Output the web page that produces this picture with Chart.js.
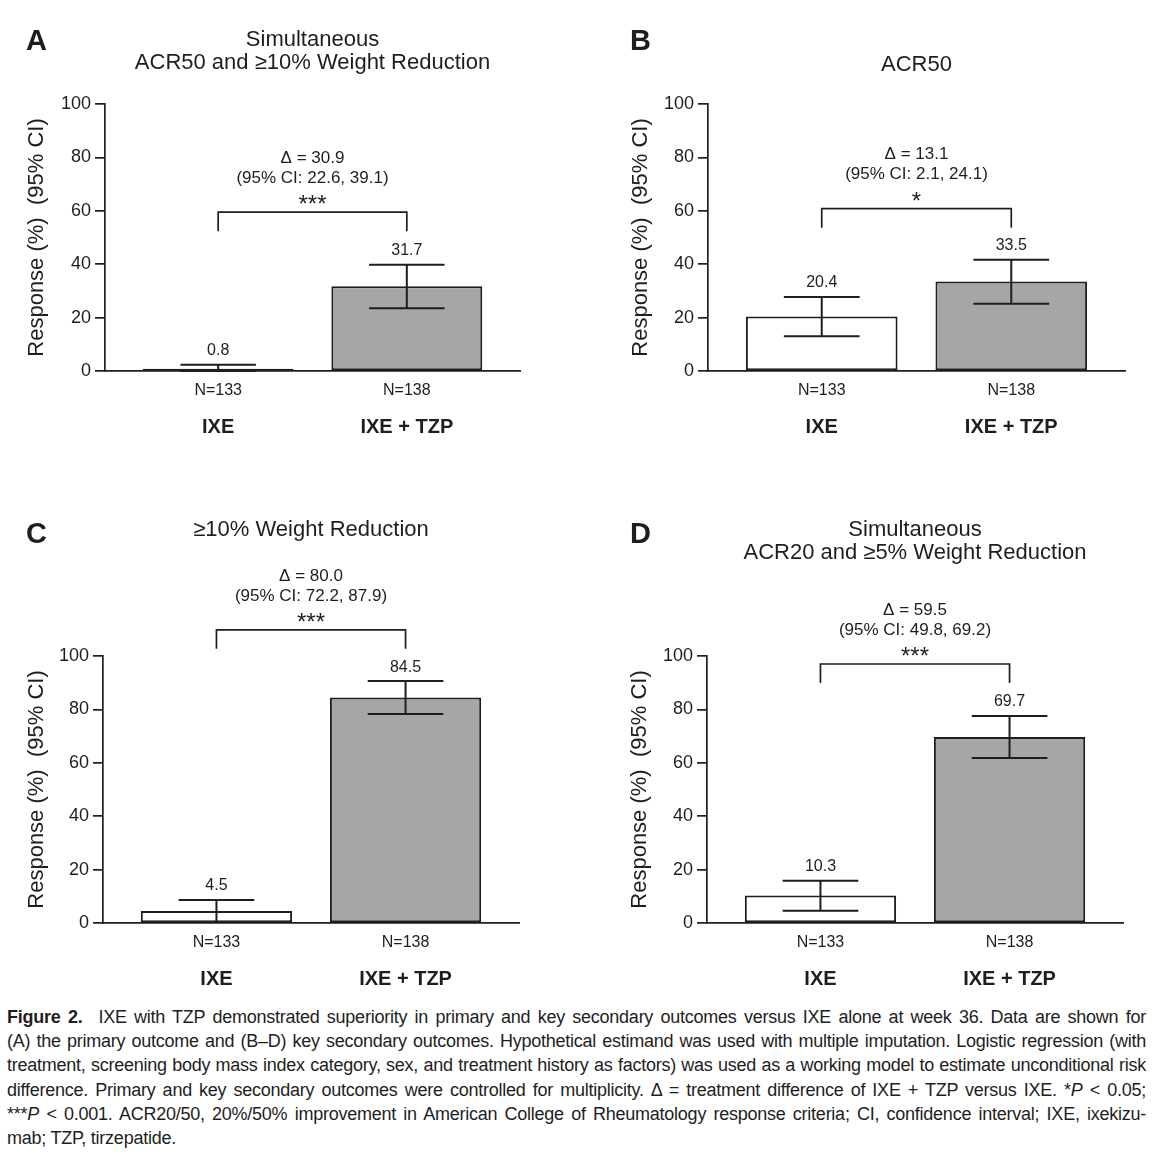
<!DOCTYPE html>
<html>
<head>
<meta charset="utf-8">
<script src="https://cdn.jsdelivr.net/npm/chart.js@4.4.1/dist/chart.umd.min.js"></script>
<style>
  body { margin: 0; background: #fff; width: 1156px; height: 1160px; position: relative; font-family: 'Liberation Sans', Arial, sans-serif; color: #1e1e1e; }
  canvas { position: absolute; }
  #cA { left: 0; top: 0; }
  #cB { left: 578px; top: 0; }
  #cC { left: 0; top: 480px; }
  #cD { left: 578px; top: 480px; }
  #caption { position: absolute; left: 7px; top: 1005px; width: 1139px; font-size: 18px; line-height: 24.2px; letter-spacing: -0.25px; }
  #caption .ln { text-align: justify; text-align-last: justify; }
  #caption .ln.last { text-align-last: left; }
  #caption .gap { margin-left: 16px; }
</style>
</head>
<body>
<canvas id="cA" width="578" height="480"></canvas>
<canvas id="cB" width="578" height="480"></canvas>
<canvas id="cC" width="578" height="522"></canvas>
<canvas id="cD" width="578" height="522"></canvas>

<div id="caption">
  <div class="ln"><b>Figure 2.</b><span class="gap"></span>IXE with TZP demonstrated superiority in primary and key secondary outcomes versus IXE alone at week 36. Data are shown for</div>
  <div class="ln">(A) the primary outcome and (B–D) key secondary outcomes. Hypothetical estimand was used with multiple imputation. Logistic regression (with</div>
  <div class="ln">treatment, screening body mass index category, sex, and treatment history as factors) was used as a working model to estimate unconditional risk</div>
  <div class="ln">difference. Primary and key secondary outcomes were controlled for multiplicity. Δ = treatment difference of IXE + TZP versus IXE. *<i>P</i> &lt; 0.05;</div>
  <div class="ln">***<i>P</i> &lt; 0.001. ACR20/50, 20%/50% improvement in American College of Rheumatology response criteria; CI, confidence interval; IXE, ixekizu-</div>
  <div class="ln last">mab; TZP, tirzepatide.</div>
</div>

<script>
// data, one entry per panel (A, B, C, D)
const groups = ['IXE', 'IXE + TZP'];
const nLabels = ['N=133', 'N=138'];
const panelLetters = ['A', 'B', 'C', 'D'];
const panelTitles = [
  ['Simultaneous', 'ACR50 and ≥10% Weight Reduction'],
  ['ACR50'],
  ['≥10% Weight Reduction'],
  ['Simultaneous', 'ACR20 and ≥5% Weight Reduction']
];
const ixeValues = [0.8, 20.4, 4.5, 10.3];
const ixeLower  = [0.0, 13.0, 0.4, 4.6];
const ixeUpper  = [2.3, 27.7, 8.6, 15.8];
const tzpValues = [31.7, 33.5, 84.5, 69.7];
const tzpLower  = [23.5, 25.2, 78.3, 61.8];
const tzpUpper  = [39.8, 41.7, 90.6, 77.5];
const deltas    = ['30.9', '13.1', '80.0', '59.5'];
const deltaCIs  = ['22.6, 39.1', '2.1, 24.1', '72.2, 87.9', '49.8, 69.2'];
const stars     = ['***', '*', '***', '***'];
const bracketLevels = [59.5, 60.8, 109.8, 97.0];
const yTickStep = 20;
const yMax = 100;

const FONT = "'Liberation Sans', Arial, sans-serif";
const INK = '#1e1e1e';
Chart.defaults.font.family = FONT;
Chart.defaults.color = INK;

// per-panel layout (positions only)
const layouts = [
  { canvas: 'cA', pad: { left: 0,  right: 58, top: 0, bottom: 71 }, yWidth: 105, titlePad: { top: 28.5, bottom: 29.3 },  letterX: 26, letterY: 50 },
  { canvas: 'cB', pad: { left: 26, right: 31, top: 0, bottom: 71 }, yWidth: 104, titlePad: { top: 53.5, bottom: 27.4 },  letterX: 52, letterY: 50 },
  { canvas: 'cC', pad: { left: 0,  right: 59, top: 0, bottom: 41 }, yWidth: 103, titlePad: { top: 38.5, bottom: 114.4 }, letterX: 26, letterY: 63 },
  { canvas: 'cD', pad: { left: 25, right: 33, top: 0, bottom: 41 }, yWidth: 104, titlePad: { top: 38.5, bottom: 91.3 },  letterX: 52, letterY: 63 }
];

// error bars, value labels, group names, significance bracket, panel letter
const annotate = {
  id: 'annotate',
  afterDatasetsDraw(chart, args, opts) {
    const p = opts.panel;
    const { ctx, chartArea } = chart;
    const x = chart.scales.x, y = chart.scales.y;
    const meta = chart.getDatasetMeta(0);
    const vals = [ixeValues[p], tzpValues[p]];
    const lows = [ixeLower[p], tzpLower[p]];
    const highs = [ixeUpper[p], tzpUpper[p]];

    ctx.save();
    ctx.strokeStyle = INK;
    ctx.fillStyle = INK;
    ctx.lineWidth = 2;
    ctx.textAlign = 'center';
    ctx.textBaseline = 'middle';

    meta.data.forEach((bar, i) => {
      const cx = x.getPixelForValue(i);
      const half = bar.width / 4;
      const yl = y.getPixelForValue(lows[i]);
      const yh = y.getPixelForValue(highs[i]);
      ctx.beginPath();
      ctx.moveTo(cx, yl); ctx.lineTo(cx, yh);
      ctx.moveTo(cx - half, yh); ctx.lineTo(cx + half, yh);
      ctx.moveTo(cx - half, yl); ctx.lineTo(cx + half, yl);
      ctx.stroke();
      ctx.font = '16px ' + FONT;
      ctx.fillText(vals[i].toFixed(1), cx, yh - 14);
      ctx.font = 'bold 20px ' + FONT;
      ctx.fillText(groups[i], cx, chartArea.bottom + 56);
    });

    // bracket between the two groups
    const x0 = x.getPixelForValue(0), x1 = x.getPixelForValue(1);
    const yb = y.getPixelForValue(bracketLevels[p]);
    ctx.lineWidth = 1.7;
    ctx.beginPath();
    ctx.moveTo(x0, yb + 19); ctx.lineTo(x0, yb); ctx.lineTo(x1, yb); ctx.lineTo(x1, yb + 19);
    ctx.stroke();

    const xm = (x0 + x1) / 2;
    ctx.font = '17px ' + FONT;
    ctx.fillText('Δ = ' + deltas[p], xm, yb - 54);
    ctx.fillText('(95% CI: ' + deltaCIs[p] + ')', xm, yb - 34);
    ctx.font = '24px ' + FONT;
    ctx.textBaseline = 'alphabetic';
    ctx.fillText(stars[p], xm, yb);

    // panel letter
    ctx.font = 'bold 29px ' + FONT;
    ctx.textAlign = 'left';
    ctx.fillText(panelLetters[p], opts.letterX, opts.letterY);
    ctx.restore();
  }
};

function makePanel(p) {
  const L = layouts[p];
  const ctx = document.getElementById(L.canvas).getContext('2d');
  new Chart(ctx, {
    type: 'bar',
    data: {
      datasets: [{
        data: groups.map((g, i) => ({ x: i, y: [ixeValues[p], tzpValues[p]][i] })),
        backgroundColor: ['#ffffff', '#a6a6a6'],
        borderColor: INK,
        borderWidth: 2,
        borderSkipped: false,
        barPercentage: 1.0,
        categoryPercentage: 0.8
      }]
    },
    options: {
      responsive: false,
      animation: false,
      layout: { padding: L.pad },
      plugins: {
        legend: { display: false },
        tooltip: { enabled: false },
        title: {
          display: true,
          fullSize: false,
          text: panelTitles[p],
          color: INK,
          font: { size: 22, weight: 'normal', lineHeight: 1.05 },
          padding: L.titlePad
        },
        annotate: { panel: p, letterX: L.letterX, letterY: L.letterY }
      },
      scales: {
        x: {
          type: 'linear',
          min: -0.6,
          max: 1.6,
          offset: false,
          grid: { display: false, drawTicks: false, offset: false },
          border: { display: true, color: INK, width: 1.7 },
          afterBuildTicks: s => { s.ticks = groups.map((g, i) => ({ value: i })); },
          afterFit: s => { s.height = 38; },
          ticks: {
            autoSkip: false, maxRotation: 0, padding: 9.5,
            font: { size: 16 },
            callback: (v, i) => nLabels[i]
          }
        },
        y: {
          min: 0,
          max: yMax,
          afterFit: s => { s.width = L.yWidth; },
          grid: { display: true, drawOnChartArea: false, drawTicks: true, tickLength: 10, color: INK, lineWidth: 1.7 },
          border: { display: true, color: INK, width: 1.7 },
          ticks: { stepSize: yTickStep, padding: 4, font: { size: 18 } },
          title: {
            display: true,
            text: 'Response (%)  (95% CI)',
            color: INK,
            font: { size: 22 },
            padding: { top: 24, bottom: 0 }
          }
        }
      }
    },
    plugins: [annotate]
  });
}

[0, 1, 2, 3].forEach(makePanel);
</script>
</body>
</html>
